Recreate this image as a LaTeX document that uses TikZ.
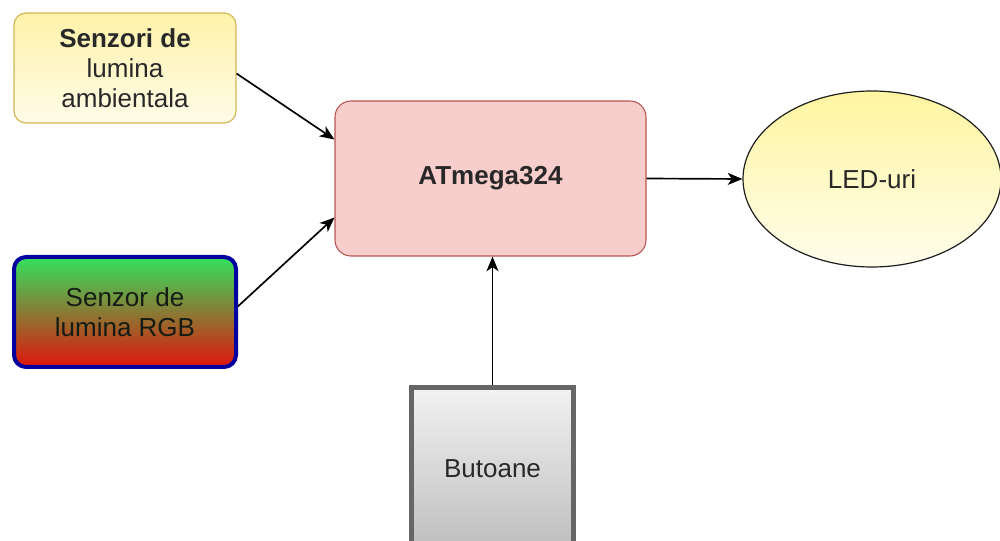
\documentclass[tikz,border=0pt]{standalone}
\usepackage{fontspec}
\setmainfont{Liberation Sans}
\usetikzlibrary{arrows.meta}
\usetikzlibrary{calc}
\usetikzlibrary{shapes}
\usepackage{xcolor}

\begin{document}
\begin{tikzpicture}[x=0.75pt,y=0.75pt,yscale=-1,xscale=1,
  lbl/.style={font=\fontsize{19.5}{22.5}\selectfont, align=center, text={rgb,255:red,40;green,40;blue,40}},
  ambbox/.style={lbl, draw={rgb,255:red,214;green,182;blue,86}, line width=0.9pt, rounded corners=9pt,
    top color={rgb,255:red,255;green,242;blue,170}, bottom color={rgb,255:red,255;green,252;blue,232},
    minimum width=166.5pt, minimum height=82.5pt, inner sep=0pt},
  rgbbox/.style={lbl, text={rgb,255:red,20;green,28;blue,20}, draw={rgb,255:red,0;green,0;blue,160}, line width=3pt, rounded corners=9pt,
    top color={rgb,255:red,50;green,225;blue,95}, bottom color={rgb,255:red,225;green,20;blue,10},
    minimum width=166.5pt, minimum height=82.5pt, inner sep=0pt},
  mcubox/.style={lbl, draw={rgb,255:red,184;green,84;blue,80}, line width=0.8pt, rounded corners=12pt,
    fill={rgb,255:red,248;green,206;blue,204},
    minimum width=233.25pt, minimum height=116.25pt, inner sep=0pt},
  ledell/.style={lbl, ellipse, draw={rgb,255:red,30;green,30;blue,30}, line width=0.9pt,
    top color={rgb,255:red,255;green,245;blue,160}, bottom color={rgb,255:red,255;green,253;blue,235},
    minimum width=193.5pt, minimum height=132pt, inner sep=0pt},
  btnbox/.style={lbl, draw={rgb,255:red,102;green,102;blue,102}, line width=3.75pt,
    top color={rgb,255:red,242;green,242;blue,242}, bottom color={rgb,255:red,190;green,190;blue,190},
    minimum width=121.5pt, minimum height=121.5pt, inner sep=0pt},
  conn/.style={draw={rgb,255:red,0;green,0;blue,0}, line width=1.25pt, -{Stealth[length=11pt,width=9pt,inset=3pt]}}
]
\useasboundingbox (0,0) rectangle (1000,541);

%Rounded Rect: ambient light sensors
\node (senz) [ambbox] at (125,68) {\textbf{Senzori de}\\lumina\\ambientala};
%Rounded Rect: RGB sensor
\node (rgb) [rgbbox] at (125,312) {Senzor de\\lumina RGB};
%Rounded Rect: microcontroller
\node (atm) [mcubox] at (490.5,178.5) {\textbf{ATmega324}};
%Ellipse: LEDs
\node (led) [ledell] at (872,179) {LED-uri};
%Process: buttons
\node (but) [btnbox] at (492.5,468.5) {Butoane};

%Straight Lines
\draw [conn] ($(senz.north east)!0.55!(senz.south east)$) -- ($(atm.north west)!0.25!(atm.south west)$);
\draw [conn] ($(rgb.north east)!0.45!(rgb.south east)$) -- ($(atm.north west)!0.75!(atm.south west)$);
\draw [conn] (atm.east) -- (led.west);
\draw [conn] (but.north) -- (but.north |- atm.south);

\end{tikzpicture}
\end{document}
